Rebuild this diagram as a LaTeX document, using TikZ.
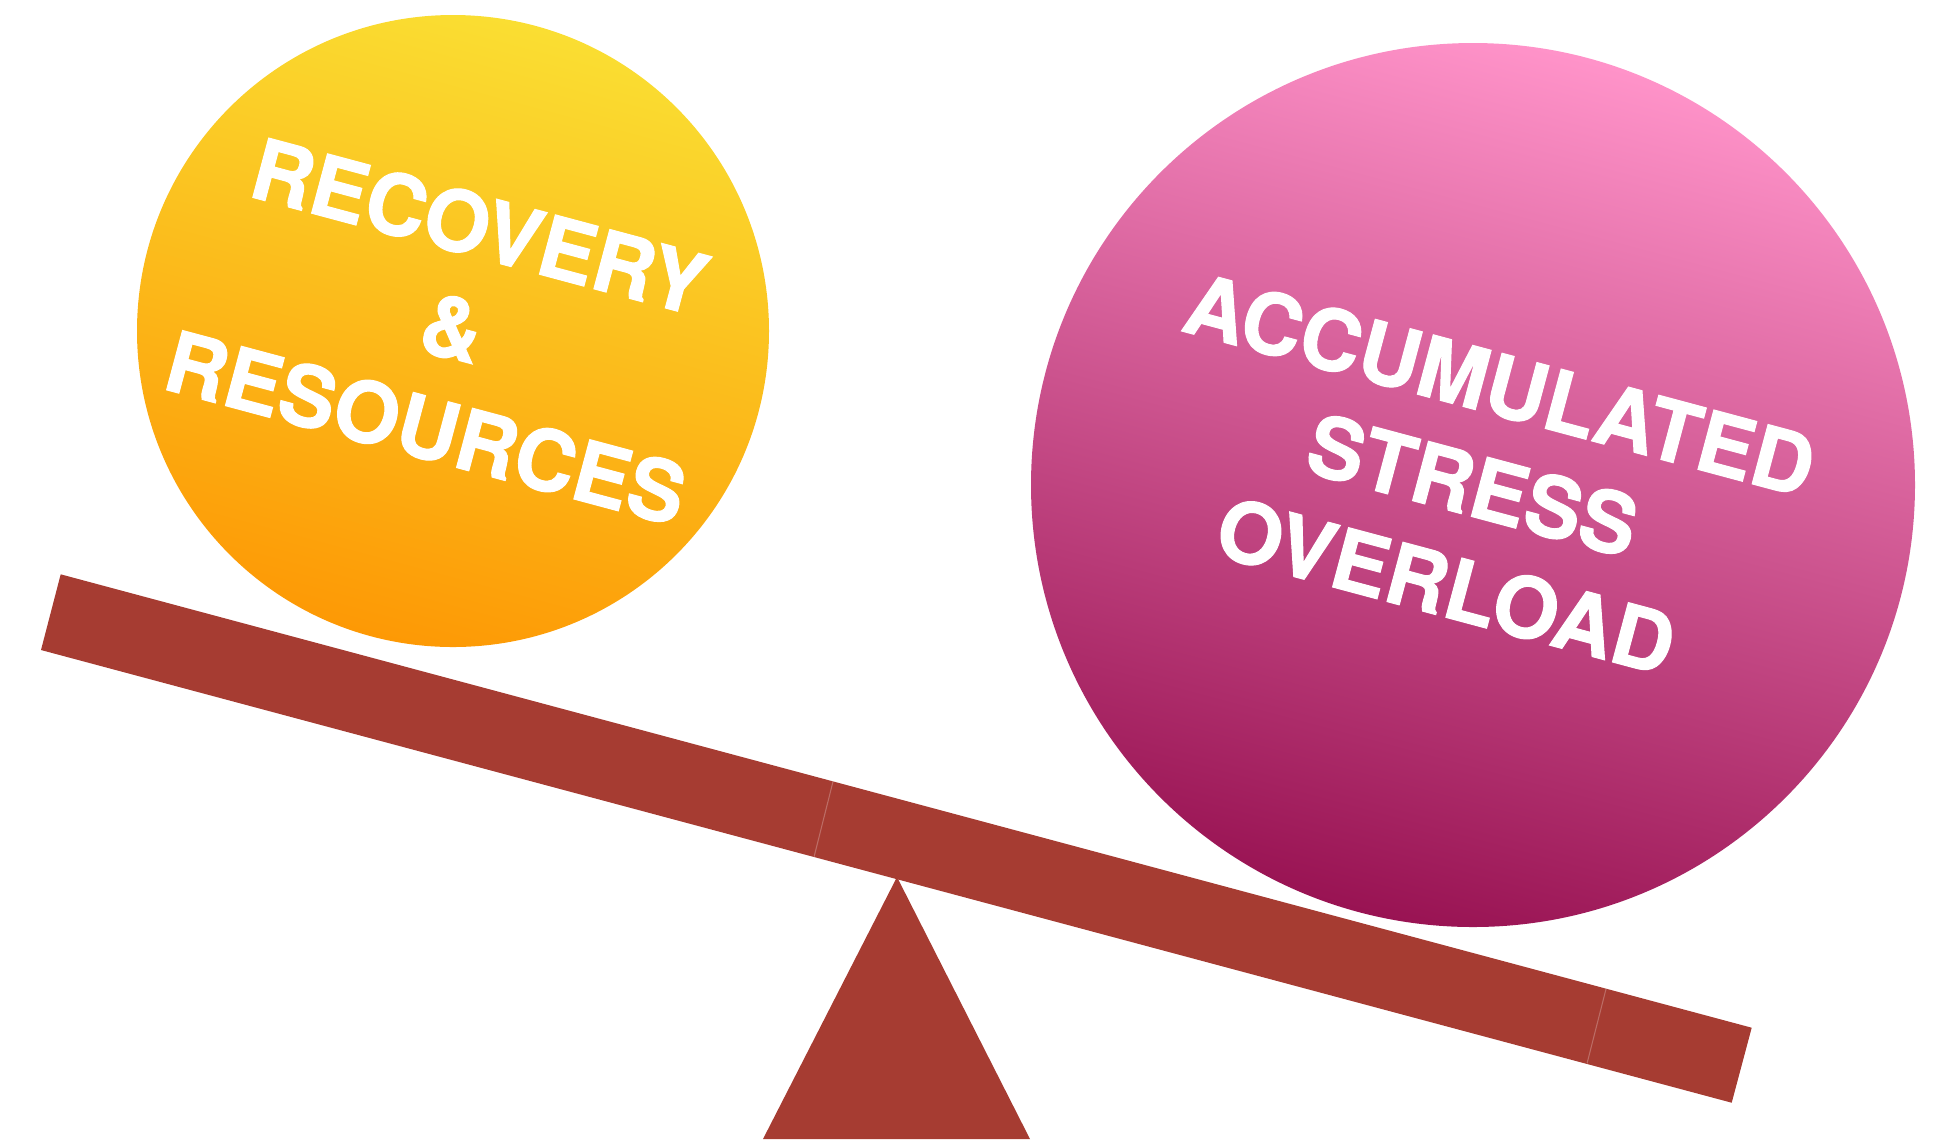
\documentclass[tikz,border=0pt]{standalone}
\usepackage{fontspec}
\setmainfont{TeX Gyre Heros}
\newfontfamily\ballfont{texgyreheros-bold.otf}[FakeBold=1.2]
\begin{document}
\definecolor{sunTop}{HTML}{FADE32}
\definecolor{sunBottom}{HTML}{FD9905}
\definecolor{roseTop}{HTML}{FF93C9}
\definecolor{roseBottom}{HTML}{991353}
\definecolor{plank}{HTML}{A63C32}
\begin{tikzpicture}[x=0.01cm,y=-0.01cm,
  ballLabel/.style={text=white, align=center, inner sep=0pt, rotate=-15,
    font=\ballfont\fontsize{24}{29.6}\selectfont},
  seam/.style={draw=white, opacity=0.25, line width=0.3pt}]
\useasboundingbox (0,0) rectangle (1942,1141);

% fulcrum
\fill[plank] (897,877) -- (1030,1139) -- (763,1139) -- cycle;

% tilted plank
\fill[plank] (60.7,574.3) -- (1751.7,1027.7) -- (1731.7,1102.7) -- (41,650) -- cycle;
\draw[seam] (833,781.5) -- (814,857);
\draw[seam] (1606,989) -- (1587,1063.5);

% light ball on the raised end
\shade[top color=sunTop, bottom color=sunBottom, shading angle=-15]
  (453,331) circle[radius=316];
\node[ballLabel] (recovery) at (453,327) {RECOVERY\\\&\\RESOURCES};

% heavy ball on the lowered end
\shade[top color=roseTop, bottom color=roseBottom, shading angle=-15]
  (1473,485) circle[radius=442];
\node[ballLabel] (stress) at (1473,485) {ACCUMULATED\\STRESS\\OVERLOAD};
\end{tikzpicture}
\end{document}
